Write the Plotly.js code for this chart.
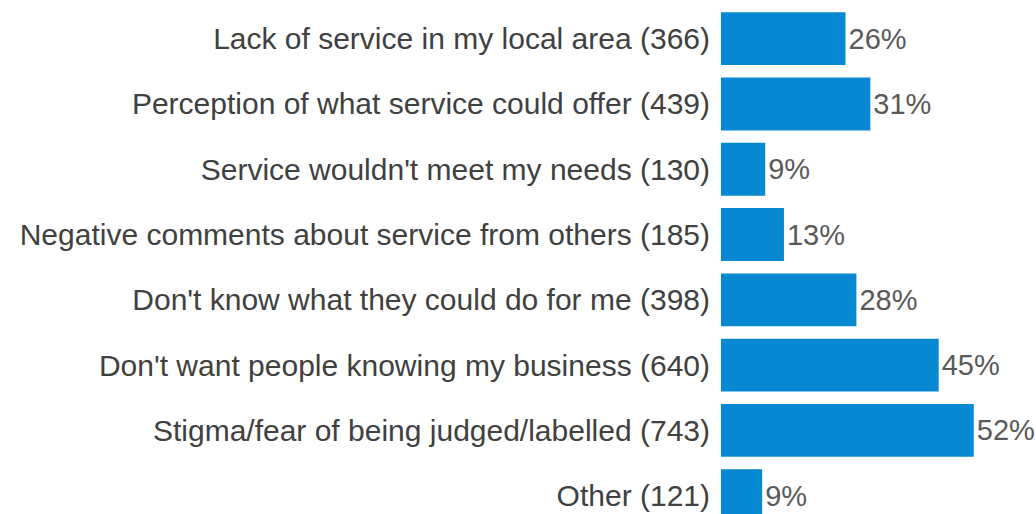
<!DOCTYPE html>
<html><head><meta charset="utf-8">
<script src="https://cdn.plot.ly/plotly-3.0.1.min.js"></script>
<style>html,body{margin:0;padding:0;background:#fff}</style>
</head><body>
<div id="chart" style="width:1036px;height:514px"></div>
<script>
const categories = [
  "Lack of service in my local area (366)",
  "Perception of what service could offer (439)",
  "Service wouldn't meet my needs (130)",
  "Negative comments about service from others (185)",
  "Don't know what they could do for me (398)",
  "Don't want people knowing my business (640)",
  "Stigma/fear of being judged/labelled (743)",
  "Other (121)"
];
const counts = [366, 439, 130, 185, 398, 640, 743, 121];
const percentLabels = ["26%", "31%", "9%", "13%", "28%", "45%", "52%", "9%"];

Plotly.newPlot('chart', [{
  type: 'bar',
  orientation: 'h',
  y: categories,
  x: counts,
  text: percentLabels,
  textposition: 'outside',
  cliponaxis: false,
  textfont: {family: 'Liberation Sans, Arial, sans-serif', size: 29, color: '#595959'},
  marker: {color: '#0688d3'},
  hoverinfo: 'none'
}], {
  width: 1036, height: 514,
  margin: {l: 721, r: 0, t: 6, b: 0},
  bargap: 0.19,
  showlegend: false,
  paper_bgcolor: '#ffffff', plot_bgcolor: '#ffffff',
  xaxis: {range: [0, 926], visible: false, fixedrange: true},
  yaxis: {
    type: 'category',
    range: [7.28, -0.5],
    showgrid: false, zeroline: false, showline: false,
    ticks: '', ticklabelstandoff: 10,
    tickfont: {family: 'Liberation Sans, Arial, sans-serif', size: 30, color: '#404040'},
    automargin: false
  },
  font: {family: 'Liberation Sans, Arial, sans-serif'}
}, {staticPlot: true});
</script>
</body></html>
